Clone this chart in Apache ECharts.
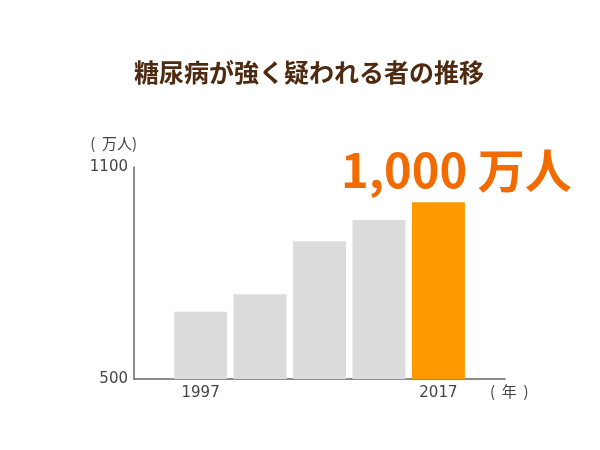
<!DOCTYPE html>
<html>
<head>
<meta charset="utf-8">
<script src="https://cdn.jsdelivr.net/npm/echarts@6/dist/echarts.min.js"></script>
<style>html,body{margin:0;padding:0;background:#fff}#c{width:600px;height:450px}</style>
</head>
<body>
<div id="c"></div>
<script>
const titleText = '糖尿病が強く疑われる者の推移';
const years = [1997, 2002, 2007, 2012, 2017];
const values = [690, 740, 890, 950, 1000];
const xTickLabels = [1997, 2017];
const yTickLabels = [500, 1100];
const highlightYear = 2017;
const unitLabel = '万人';

const data = years.map((y, i) => {
  const item = { value: [y, values[i]] };
  if (y === highlightYear) {
    item.itemStyle = { color: '#ff9900' };
    item.label = {
      show: true,
      position: 'top',
      distance: 9,
      offset: [18, 0],
      formatter: p => p.value[1].toLocaleString('en-US') + ' ' + unitLabel,
      color: '#f26b00',
      fontSize: 47,
      fontWeight: 'bold',
      fontFamily: 'Noto Sans CJK JP'
    };
  }
  return item;
});

const chart = echarts.init(document.getElementById('c'));
chart.setOption({
  animation: false,
  title: {
    text: titleText,
    left: 129,
    top: 55,
    textStyle: { fontFamily: 'Noto Sans CJK JP', fontSize: 25, fontWeight: 'bold', color: '#4d2a10' }
  },
  grid: { left: 134, right: 95, top: 167, bottom: 71 },
  xAxis: {
    type: 'value',
    min: 1991.4,
    max: 2022.6,
    name: '(  年  )',
    nameLocation: 'end',
    nameGap: -15,
    nameTextStyle: { fontFamily: 'Noto Sans CJK JP', fontSize: 15, color: '#444', verticalAlign: 'top', padding: [5, 0, 0, 0] },
    axisLine: { show: true, lineStyle: { color: '#666', width: 1.5 } },
    axisTick: { show: false },
    splitLine: { show: false },
    axisLabel: {
      customValues: xTickLabels,
      formatter: v => String(v),
      margin: 7,
      fontFamily: 'DejaVu Sans',
      fontSize: 15,
      color: '#444'
    }
  },
  yAxis: {
    type: 'value',
    min: yTickLabels[0],
    max: yTickLabels[1],
    interval: yTickLabels[1] - yTickLabels[0],
    name: '(  万人)',
    nameLocation: 'end',
    nameGap: 16,
    nameTextStyle: { fontFamily: 'Noto Sans CJK JP', fontSize: 15, color: '#444', align: 'right', padding: [0, -3, 0, 0] },
    axisLine: { show: true, lineStyle: { color: '#666', width: 1.5 } },
    axisTick: { show: false },
    splitLine: { show: false },
    axisLabel: { formatter: v => String(v), margin: 6, fontFamily: 'DejaVu Sans', fontSize: 15, color: '#444' }
  },
  series: [{
    type: 'bar',
    barWidth: 53,
    itemStyle: { color: '#dcdcdc' },
    data: data
  }]
});
</script>
</body>
</html>
